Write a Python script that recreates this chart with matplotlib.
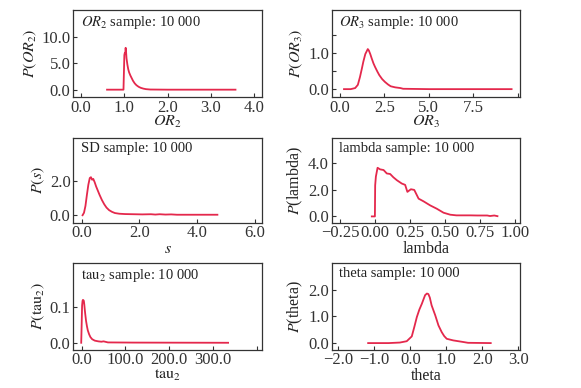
import matplotlib
matplotlib.use("Agg")
import matplotlib.pyplot as plt
from matplotlib.ticker import FuncFormatter

plt.rcParams['font.family'] = ['Liberation Serif', 'DejaVu Serif']
plt.rcParams['mathtext.fontset'] = 'stix'
plt.rcParams['font.size'] = 10

# posterior samples
or2_x = [0.60, 0.98, 1.00, 1.01, 1.02, 1.03, 1.04, 1.05, 1.07, 1.09, 1.11, 1.14, 1.17, 1.20,
         1.24, 1.28, 1.33, 1.38, 1.44, 1.50, 1.60, 2.00, 3.57]
or2_y = [0.0, 0.0, 6.6, 7.0, 6.8, 8.0, 7.2, 6.0, 4.8, 3.9, 3.3, 2.7, 2.2, 1.7,
         1.2, 0.85, 0.55, 0.35, 0.2, 0.1, 0.03, 0.0, 0.0]

or3_x = [0.22, 0.60, 0.85, 1.00, 1.12, 1.22, 1.31, 1.42, 1.50, 1.56, 1.62, 1.70, 1.78, 1.88,
         1.97, 2.10, 2.21, 2.37, 2.53, 2.70, 2.85, 3.10, 3.40, 3.55, 5.00, 9.66]
or3_y = [0.0, 0.0, 0.03, 0.12, 0.34, 0.56, 0.77, 0.98, 1.06, 1.12, 1.08, 0.98, 0.86, 0.72,
         0.62, 0.49, 0.39, 0.28, 0.20, 0.13, 0.08, 0.05, 0.03, 0.01, 0.0, 0.0]

sd_x = [0.03, 0.08, 0.13, 0.18, 0.23, 0.28, 0.32, 0.36, 0.40, 0.45, 0.50, 0.56, 0.62, 0.70,
        0.78, 0.86, 0.95, 1.05, 1.15, 1.30, 1.50, 1.80, 2.10, 2.40, 2.55, 2.70, 2.90, 3.10,
        3.30, 3.80, 4.70]
sd_y = [0.0, 0.15, 0.55, 1.2, 1.8, 2.2, 2.25, 2.1, 2.15, 1.95, 1.7, 1.45, 1.2, 0.9,
        0.65, 0.45, 0.3, 0.2, 0.13, 0.09, 0.07, 0.06, 0.05, 0.06, 0.04, 0.06, 0.04, 0.05,
        0.03, 0.03, 0.03]

lam_x = [-0.024, -0.002, 0.0, 0.005, 0.017, 0.035, 0.06, 0.083, 0.107, 0.13, 0.155, 0.19,
         0.214, 0.23, 0.255, 0.279, 0.31, 0.345, 0.393, 0.44, 0.488, 0.536, 0.58, 0.68,
         0.73, 0.80, 0.82, 0.85, 0.873]
lam_y = [0.0, 0.0, 2.35, 3.0, 3.67, 3.55, 3.5, 3.24, 3.2, 2.95, 2.73, 2.48,
         2.38, 1.85, 2.05, 2.0, 1.34, 1.14, 0.83, 0.58, 0.28, 0.13, 0.08, 0.08,
         0.07, 0.07, 0.03, 0.07, 0.02]

tau_x = [-1, 0, 1, 2, 3, 4, 5, 6, 7, 8, 10, 12, 14, 17, 20, 24, 30, 38, 45, 50, 60, 120, 334]
tau_y = [0.0, 0.05, 0.105, 0.118, 0.121, 0.12, 0.118, 0.108, 0.095, 0.083, 0.062, 0.047,
         0.035, 0.024, 0.016, 0.01, 0.006, 0.004, 0.003, 0.004, 0.001, 0.0005, 0.0]

th_x = [-1.17, -0.60, -0.29, -0.10, 0.04, 0.11, 0.18, 0.25, 0.32, 0.37, 0.41, 0.46, 0.50,
        0.54, 0.59, 0.69, 0.78, 0.87, 0.94, 1.01, 1.19, 1.47, 1.60, 2.23]
th_y = [0.0, 0.0, 0.02, 0.07, 0.25, 0.6, 0.97, 1.25, 1.47, 1.65, 1.79, 1.85, 1.83,
        1.7, 1.41, 1.04, 0.66, 0.41, 0.26, 0.16, 0.1, 0.04, 0.01, 0.0]

red = '#e4284c'
grey = '#333333'


def fmt(d):
    return FuncFormatter(lambda v, p: ('{:.%df}' % d).format(v).replace('-', '\u2212'))


def setup(ax, xlim, ylim, xt, yt, xlab, ylab, note, xd=1, yd=1, hide_last_x=False,
          minor_y=None, xpad=0):
    ax.set_xlim(*xlim)
    ax.set_ylim(*ylim)
    ax.set_xticks(xt)
    ax.set_yticks(yt)
    ax.xaxis.set_major_formatter(fmt(xd))
    ax.yaxis.set_major_formatter(fmt(yd))
    if hide_last_x:
        labs = [('{:.%df}' % xd).format(v) for v in xt]
        labs[-1] = ''
        ax.set_xticklabels(labs)
    if minor_y is not None:
        ax.set_yticks(minor_y, minor=True)
    ax.tick_params(direction='in', length=3, width=0.8, colors=grey, labelsize=12, pad=2)
    ax.tick_params(which='minor', direction='in', length=3, width=0.8, colors=grey)
    for s in ax.spines.values():
        s.set_color(grey)
        s.set_linewidth(0.9)
    ax.set_xlabel(xlab, fontsize=11.5, labelpad=xpad, color='#222222')
    ax.set_ylabel(ylab, fontsize=11.5, labelpad=2, color='#222222')
    ax.text(0.04, 0.95, note, transform=ax.transAxes, va='top', ha='left', fontsize=10.5,
            color='#222222')


fig = plt.figure(figsize=(5.81, 3.88), dpi=100)
L1, L2, W = 0.1262, 0.571, 0.3245
ax1 = fig.add_axes([L1, 0.750, W, 0.224])
ax2 = fig.add_axes([L2, 0.750, W, 0.224])
ax3 = fig.add_axes([L1, 0.4265, W, 0.218])
ax4 = fig.add_axes([L2, 0.4265, W, 0.218])
ax5 = fig.add_axes([L1, 0.0992, W, 0.223])
ax6 = fig.add_axes([L2, 0.0992, W, 0.223])

ax1.plot(or2_x, or2_y, color=red, lw=1.3)
setup(ax1, (-0.18, 4.18), (-1.4, 15.2), [0, 1, 2, 3, 4], [0, 5, 10],
      r'$OR_2$', r'$P(OR_2)$', r'$OR_2$ sample: 10 000', xpad=-1)

ax2.plot(or3_x, or3_y, color=red, lw=1.3)
setup(ax2, (-0.47, 10.15), (-0.22, 2.21), [0, 2.5, 5, 7.5, 10], [0, 1],
      r'$OR_3$', r'$P(OR_3)$', r'$OR_3$ sample: 10 000', hide_last_x=True,
      minor_y=[0.5, 1.5], xpad=-1)

ax3.plot(sd_x, sd_y, color=red, lw=1.3)
setup(ax3, (-0.29, 6.24), (-0.43, 4.57), [0, 2, 4, 6], [0, 2],
      r'$s$', r'$P(s)$', 'SD sample: 10 000')

ax4.plot(lam_x, lam_y, color=red, lw=1.3)
setup(ax4, (-0.31, 1.036), (-0.46, 5.92), [-0.25, 0, 0.25, 0.5, 0.75, 1.0], [0, 2, 4],
      'lambda', r'$P$(lambda)', 'lambda sample: 10 000', xd=2)

ax5.plot(tau_x, tau_y, color=red, lw=1.3)
setup(ax5, (-19, 411), (-0.019, 0.225), [0, 100, 200, 300, 400], [0, 0.1],
      r'$\mathrm{tau}_2$', r'$P(\mathrm{tau}_2)$', r'$\mathrm{tau}_2$ sample: 10 000',
      hide_last_x=True, xpad=-1)

ax6.plot(th_x, th_y, color=red, lw=1.3)
setup(ax6, (-2.18, 3.05), (-0.24, 2.99), [-2, -1, 0, 1, 2, 3], [0, 1, 2],
      'theta', r'$P$(theta)', 'theta sample: 10 000')

fig.savefig('out.png', dpi=100)
